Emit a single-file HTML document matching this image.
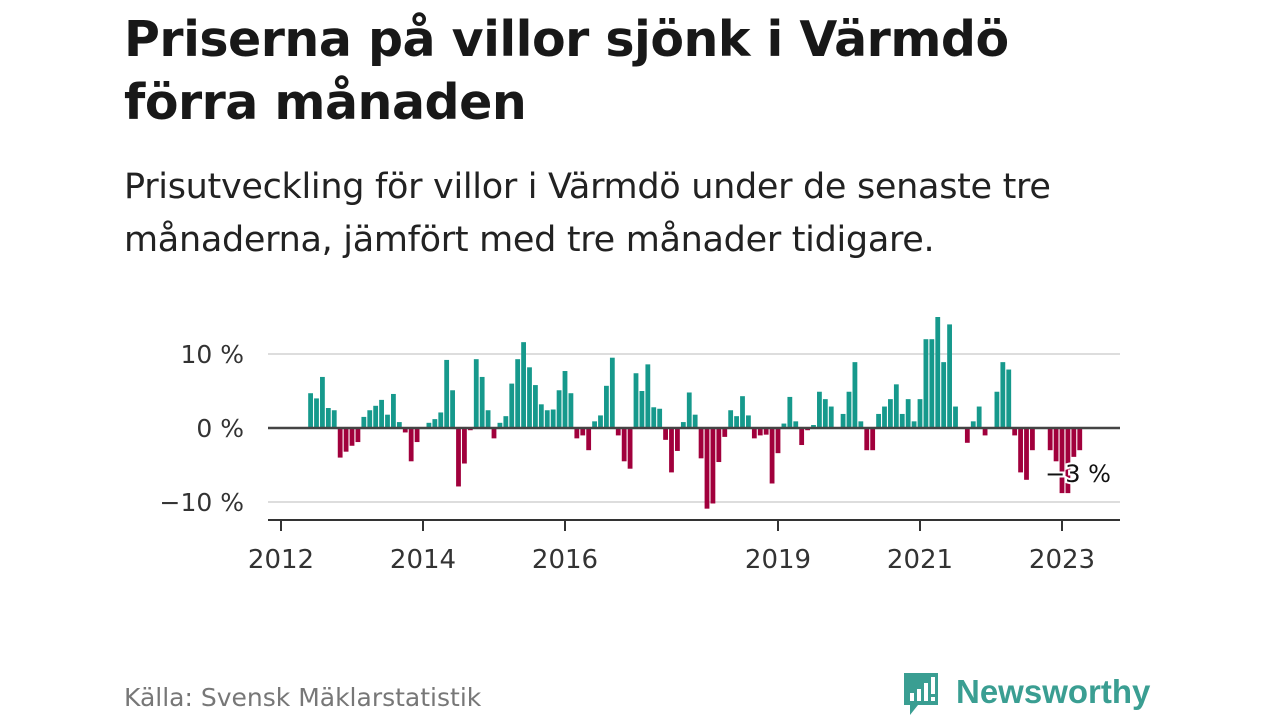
<!DOCTYPE html>
<html><head><meta charset="utf-8">
<style>
body{margin:0;width:1280px;height:720px;background:#fff;font-family:"Liberation Sans","DejaVu Sans",sans-serif;overflow:hidden;position:relative;color:#111}
h1{position:absolute;left:124px;top:8px;margin:0;font-size:49px;line-height:63px;font-weight:bold;color:#181818;font-family:"DejaVu Sans","Liberation Sans",sans-serif;letter-spacing:-0.5px;white-space:nowrap}
.sub{position:absolute;left:124px;top:161px;font-size:35px;line-height:53px;color:#222;font-family:"DejaVu Sans","Liberation Sans",sans-serif;letter-spacing:-0.3px;white-space:nowrap}
.src{position:absolute;left:124px;top:683px;font-size:25px;color:#777;font-family:"DejaVu Sans","Liberation Sans",sans-serif;white-space:nowrap}
svg text{font-family:"DejaVu Sans","Liberation Sans",sans-serif}
</style></head><body>
<h1>Priserna på villor sjönk i Värmdö<br>förra månaden</h1>
<div class="sub">Prisutveckling för villor i Värmdö under de senaste tre<br>månaderna, jämfört med tre månader tidigare.</div>
<svg id="chart" width="1280" height="720" style="position:absolute;left:0;top:0"></svg>
<div class="src">Källa: Svensk Mäklarstatistik</div>
<div style="position:absolute;left:902px;top:671px;">
<svg width="260" height="50"><path d="M2 2h34v32h-20l-8 10v-10h-6z" fill="#3a9e92"/><rect x="8" y="22" width="4" height="8" fill="#fff"/><rect x="15" y="18" width="4" height="12" fill="#fff"/><rect x="22" y="12" width="4" height="18" fill="#fff"/><rect x="29" y="6" width="4" height="17" fill="#fff"/><rect x="29" y="26" width="4" height="4" fill="#fff"/>
<text x="54" y="32" font-size="33" font-weight="bold" fill="#3a9e92" style="font-family:'Liberation Sans',sans-serif">Newsworthy</text></svg></div>
<script>
const startMonth = 5; // June 2012 (months since Jan 2012)
const values = [4.7,4.0,6.9,2.7,2.4,-4.0,-3.2,-2.4,-1.9,1.5,2.4,3.0,3.8,1.8,4.6,0.8,-0.6,-4.5,-1.9,0,0.7,1.2,2.1,9.2,5.1,-7.9,-4.8,-0.3,9.3,6.9,2.4,-1.4,0.7,1.6,6.0,9.3,11.6,8.2,5.8,3.2,2.4,2.5,5.1,7.7,4.7,-1.4,-1.0,-3.0,0.9,1.7,5.7,9.5,-1.0,-4.5,-5.5,7.4,5.0,8.6,2.8,2.6,-1.6,-6.0,-3.1,0.8,4.8,1.8,-4.1,-10.9,-10.2,-4.6,-1.2,2.4,1.6,4.3,1.7,-1.4,-1.0,-0.9,-7.5,-3.4,0.6,4.2,0.9,-2.3,-0.3,0.4,4.9,3.9,2.9,0,1.9,4.9,8.9,0.9,-3.0,-3.0,1.9,2.9,3.9,5.9,1.9,3.9,0.9,3.9,12.0,12.0,15.0,8.9,14.0,2.9,0,-2.0,0.9,2.9,-1.0,0,4.9,8.9,7.9,-1.0,-6.0,-7.0,-3.0,0,0,-3.0,-4.5,-8.8,-8.8,-3.9,-3.0];
const yTicks = [10,0,-10];
const yTickLabels = ["10 %","0 %","\u221210 %"];
const xTickYears = [2012,2014,2016,2019,2021,2023];
const ns="http://www.w3.org/2000/svg", svg=document.getElementById('chart');
const y = v => 428 - v*7.4;
const x = m => 281 + m*71/12;
function el(t,a){const e=document.createElementNS(ns,t);for(const k in a)e.setAttribute(k,a[k]);svg.appendChild(e);return e;}
yTicks.forEach((t,i)=>{
  if(t!==0){const g=el('line',{x1:268,x2:1120,y1:y(t),y2:y(t),stroke:'#ddd','stroke-width':2});
  
  }
  const l=el('text',{x:244,y:y(t)+9,'text-anchor':'end','font-size':25,fill:'#333'});l.textContent=yTickLabels[i];
  
  
});
values.forEach((v,i)=>{
  const cx=x(startMonth+i);
  const r=el('rect',{x:cx-2.4,y:Math.min(y(v),y(0)),width:4.8,height:Math.abs(y(v)-y(0)),fill:v>=0?'#16998c':'#a1003c'});
  
  
});
const z=el('line',{x1:268,x2:1120,y1:y(0),y2:y(0),stroke:'#444','stroke-width':2.5});


const ax=el('line',{x1:268,x2:1120,y1:520,y2:520,stroke:'#333','stroke-width':2});


xTickYears.forEach(yr=>{
  const px=x((yr-2012)*12);
  const t=el('line',{x1:px,x2:px,y1:520,y2:531,stroke:'#333','stroke-width':2});
  
  
  const l=el('text',{x:px,y:568,'text-anchor':'middle','font-size':26,fill:'#333'});l.textContent=yr;
  
  
});
const last=values[values.length-1];
const lb=el('text',{x:1078,y:482,'text-anchor':'middle','font-size':24,fill:'#111',stroke:'#fff','stroke-width':4,'paint-order':'stroke'});
lb.textContent=(last<0?'\u2212':'')+Math.abs(Math.round(last))+' %';


</script>
</body></html>
